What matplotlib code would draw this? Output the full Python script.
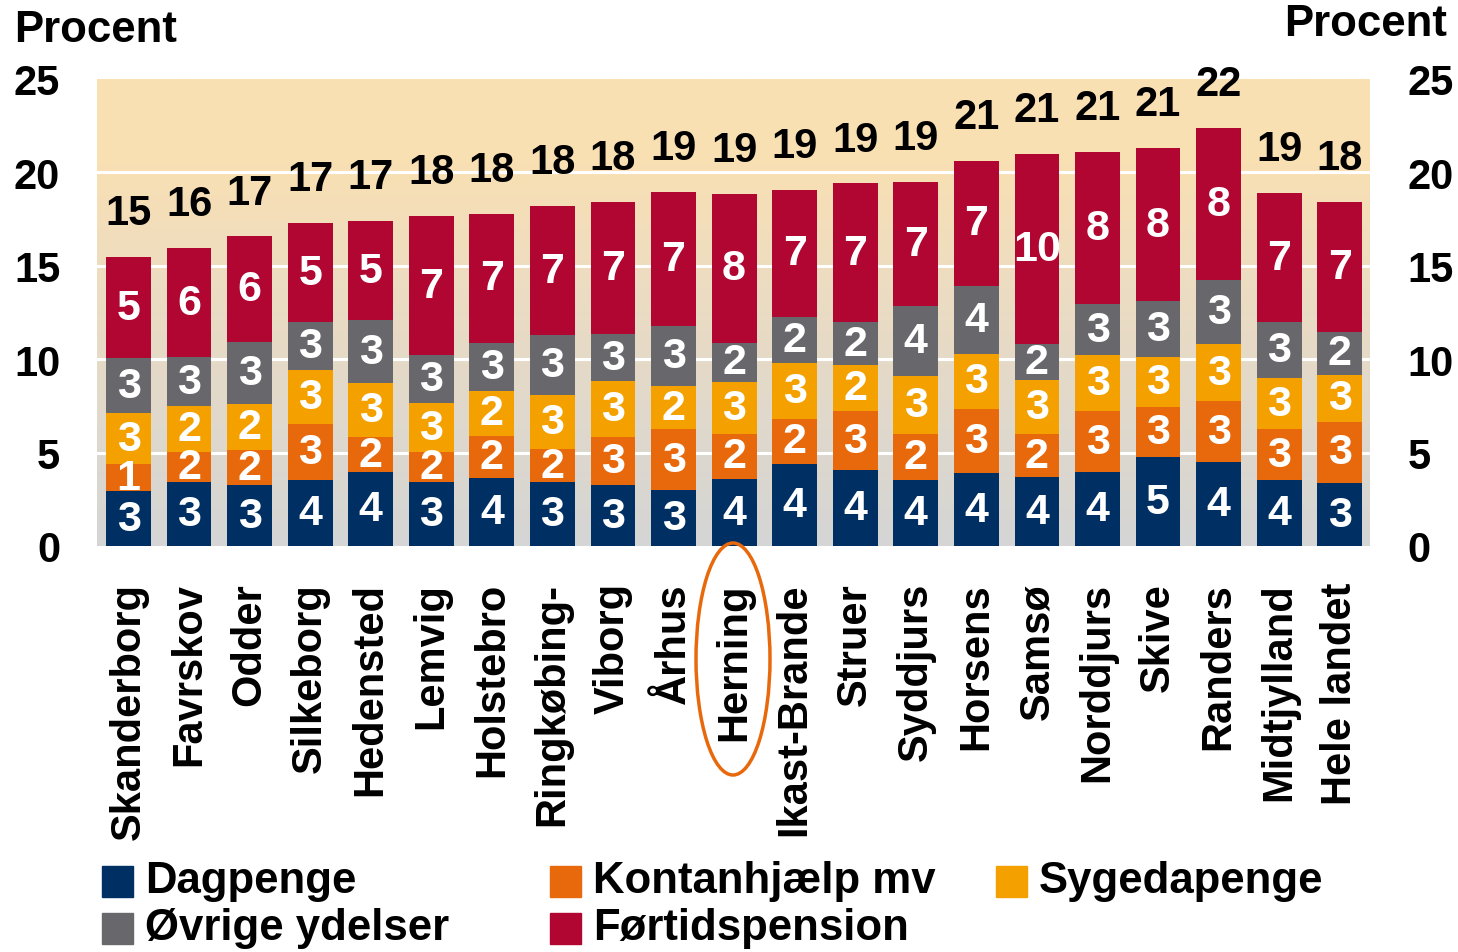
import numpy as np
import matplotlib
matplotlib.use("Agg")
import matplotlib.pyplot as plt
from matplotlib.patches import Rectangle, Ellipse
from matplotlib.colors import LinearSegmentedColormap

plt.rcParams['font.family'] = ['Liberation Sans', 'DejaVu Sans']
plt.rcParams['font.weight'] = 'bold'

# data (percent of population per benefit type)
kommuner = ['Skanderborg', 'Favrskov', 'Odder', 'Silkeborg', 'Hedensted', 'Lemvig',
            'Holstebro', 'Ringkøbing-', 'Viborg', 'Århus', 'Herning', 'Ikast-Brande',
            'Struer', 'Syddjurs', 'Horsens', 'Samsø', 'Norddjurs', 'Skive', 'Randers',
            'Midtjylland', 'Hele landet']
dagpenge = [2.93, 3.41, 3.25, 3.52, 3.95, 3.41, 3.62, 3.41, 3.25, 2.98, 3.57,
            4.37, 4.05, 3.52, 3.89, 3.68, 3.95, 4.75, 4.48, 3.52, 3.36]
kontanthjaelp = [1.45, 1.61, 1.87, 3.00, 1.87, 1.61, 2.25, 1.77, 2.57, 3.27, 2.45,
                 2.45, 3.16, 2.46, 3.45, 2.30, 3.27, 2.68, 3.27, 2.73, 3.30]
sygedagpenge = [2.73, 2.46, 2.46, 2.89, 2.89, 2.62, 2.45, 2.89, 3.00, 2.30, 2.78,
                3.00, 2.46, 3.10, 2.94, 2.89, 3.00, 2.68, 3.05, 2.73, 2.52]
oevrige = [2.94, 2.62, 3.32, 2.57, 3.37, 2.57, 2.55, 3.21, 2.52, 3.21, 2.09,
           2.46, 2.30, 3.75, 3.64, 1.93, 2.73, 3.00, 3.43, 3.00, 2.30]
foertid = [5.41, 5.84, 5.67, 5.30, 5.30, 7.45, 6.91, 6.91, 7.07, 7.17, 7.98,
           6.80, 7.44, 6.64, 6.69, 10.17, 8.14, 8.19, 8.14, 6.91, 6.96]

series = [dagpenge, kontanthjaelp, sygedagpenge, oevrige, foertid]
names = ['Dagpenge', 'Kontanhjælp mv', 'Sygedapenge', 'Øvrige ydelser', 'Førtidspension']
colors = ['#003063', '#e8690c', '#f4a100', '#68676c', '#b10532']

W, H = 1458, 953
fig = plt.figure(figsize=(W / 100, H / 100), dpi=100)
ax = fig.add_axes([97 / W, 1 - 547 / H, (1370 - 97) / W, (547 - 80) / H])

x = np.arange(len(kommuner))
ax.set_xlim(-0.52, 20.5)
ax.set_ylim(0, 25)

# gradient background
cmap = LinearSegmentedColormap.from_list('bg', [(0, '#d4d5d5'), (0.55, '#ecdcc2'),
                                                (0.82, '#f9e0b3'), (1, '#fae1b3')])
grad = np.linspace(0, 1, 256).reshape(-1, 1)
ax.imshow(grad, extent=[-0.52, 20.5, 0, 25], origin='lower', aspect='auto',
          cmap=cmap, zorder=0)
for g in [5, 10, 15, 20]:
    ax.axhline(g, color='white', lw=2.2, zorder=1)

bottom = np.zeros(len(kommuner))
for vals, col in zip(series, colors):
    vals = np.array(vals)
    ax.bar(x, vals, 0.74, bottom=bottom, color=col, zorder=2)
    for xi, b, v in zip(x, bottom, vals):
        ax.text(xi, b + v / 2, f'{int(v + 0.5)}', ha='center', va='center',
                color='white', fontsize=31, fontweight='bold', zorder=3)
    bottom += vals

for xi, t in zip(x, bottom):
    ax.text(xi, t + 2.35, f'{int(t + 0.5)}', ha='center', va='center',
            color='black', fontsize=30, fontweight='bold', zorder=3)

for s in ax.spines.values():
    s.set_visible(False)
ax.set_yticks([0, 5, 10, 15, 20, 25])
ax.tick_params(axis='y', length=0, pad=26.5, labelsize=30)
ax.set_xticks(x)
ax.set_xticklabels(kommuner, rotation=90, fontsize=30, fontweight='bold')
ax.tick_params(axis='x', length=0, pad=26)

ax2 = ax.twinx()
ax2.set_ylim(0, 25)
ax2.set_yticks([0, 5, 10, 15, 20, 25])
ax2.tick_params(axis='y', length=0, pad=27, labelsize=30)
for s in ax2.spines.values():
    s.set_visible(False)
for lab in ax.get_yticklabels() + ax2.get_yticklabels():
    lab.set_fontweight('bold')

fig.text(14 / W, 1 - 31 / H, 'Procent', ha='left', va='center', fontsize=31.5,
         fontweight='bold')
fig.text(1447 / W, 1 - 25 / H, 'Procent', ha='right', va='center', fontsize=31.5,
         fontweight='bold')

# legend drawn by hand
leg_pos = [(102, 882), (550, 882), (996, 882), (102, 929), (550, 929)]
for (lx, ly), name, col in zip(leg_pos, names, colors):
    fig.patches.append(Rectangle((lx / W, 1 - (ly + 15.5) / H), 31 / W, 31 / H,
                                 transform=fig.transFigure, color=col))
    fig.text((lx + 43) / W, 1 - ly / H, name, ha='left', va='center',
             fontsize=31.5, fontweight='bold')

# highlight Herning
fig.patches.append(Ellipse((733 / W, 1 - 660 / H), 74 / W, 232 / H,
                           transform=fig.transFigure, fill=False,
                           edgecolor='#e8690c', lw=2.5, zorder=5))

fig.savefig('out.png', dpi=100)
